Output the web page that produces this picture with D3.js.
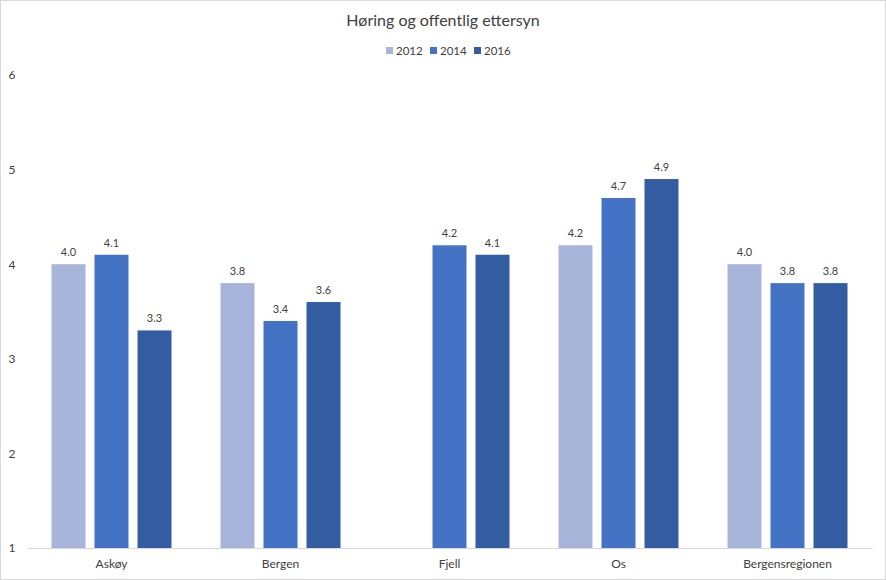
<!DOCTYPE html>
<html><head><meta charset="utf-8">
<script src="https://cdn.jsdelivr.net/npm/d3@7"></script>
<style>body{margin:0;background:#fff;} svg{display:block;}</style>
</head><body>
<svg id="c" width="886" height="580"></svg>
<script>
const title = "Høring og offentlig ettersyn";
const categories = ["Askøy", "Bergen", "Fjell", "Os", "Bergensregionen"];
const seriesNames = ["2012", "2014", "2016"];
const values2012 = [4.0, 3.8, null, 4.2, 4.0];
const values2014 = [4.1, 3.4, 4.2, 4.7, 3.8];
const values2016 = [3.3, 3.6, 4.1, 4.9, 3.8];
const yTicks = [1, 2, 3, 4, 5, 6];
const colors = ["#A7B5DB", "#4472C4", "#335CA3"];

const series = [values2012, values2014, values2016];
const svg = d3.select("#c");
const W = 886, H = 580;
const font = "Lato, 'Open Sans', sans-serif";

svg.append("rect").attr("x", 0.5).attr("y", 0.5).attr("width", W - 1).attr("height", H - 1)
  .attr("fill", "#fff").attr("stroke", "#D9D9D9");

const x0 = d3.scaleBand().domain(categories).range([27, 872]).paddingInner(0).paddingOuter(0);
const y = d3.scaleLinear().domain([1, 6]).range([548, 75]);
const bw = 34, gap = 9;

// title
svg.append("text").attr("x", 443).attr("y", 26).attr("text-anchor", "middle")
  .attr("font-family", font).attr("font-size", 16).attr("fill", "#404040").text(title);

// legend
const legX = [386, 430, 474];
seriesNames.forEach((s, i) => {
  const g = svg.append("g").attr("transform", `translate(${legX[i]},51)`);
  g.append("rect").attr("x", 0).attr("y", -4).attr("width", 7).attr("height", 7).attr("fill", colors[i]);
  g.append("text").attr("x", 10).attr("y", 4).attr("font-family", font).attr("font-size", 11.5)
    .attr("fill", "#404040").text(s);
});

// y axis labels
const yAxis = d3.axisLeft(y).tickValues(yTicks).tickSize(0).tickFormat(d3.format("d"));
const ya = svg.append("g").attr("transform", "translate(16,0)").call(yAxis);
ya.select(".domain").remove();
ya.selectAll("text").attr("font-family", font).attr("font-size", 12).attr("fill", "#404040")
  .attr("text-anchor", "middle").attr("x", -4);

// bars
categories.forEach((c, ci) => {
  const cx = x0(c) + x0.bandwidth() / 2;
  series.forEach((vals, si) => {
    const v = vals[ci];
    if (v == null) return;
    const bx = cx + (si - 1) * (bw + gap) - bw / 2;
    svg.append("rect").attr("x", bx).attr("y", y(v)).attr("width", bw)
      .attr("height", y(1) - y(v)).attr("fill", colors[si]);
    svg.append("text").attr("x", bx + bw / 2).attr("y", y(v) - 8).attr("text-anchor", "middle")
      .attr("font-family", font).attr("font-size", 11).attr("fill", "#404040").text(v.toFixed(1));
  });
});

// x axis
const xAxis = d3.axisBottom(x0).tickSize(0).tickPadding(11);
const xa = svg.append("g").attr("transform", `translate(0,${y(1)})`).call(xAxis);
xa.select(".domain").attr("stroke", "#D9D9D9");
xa.selectAll("text").attr("font-family", font).attr("font-size", 12).attr("fill", "#404040");
</script>
</body></html>
